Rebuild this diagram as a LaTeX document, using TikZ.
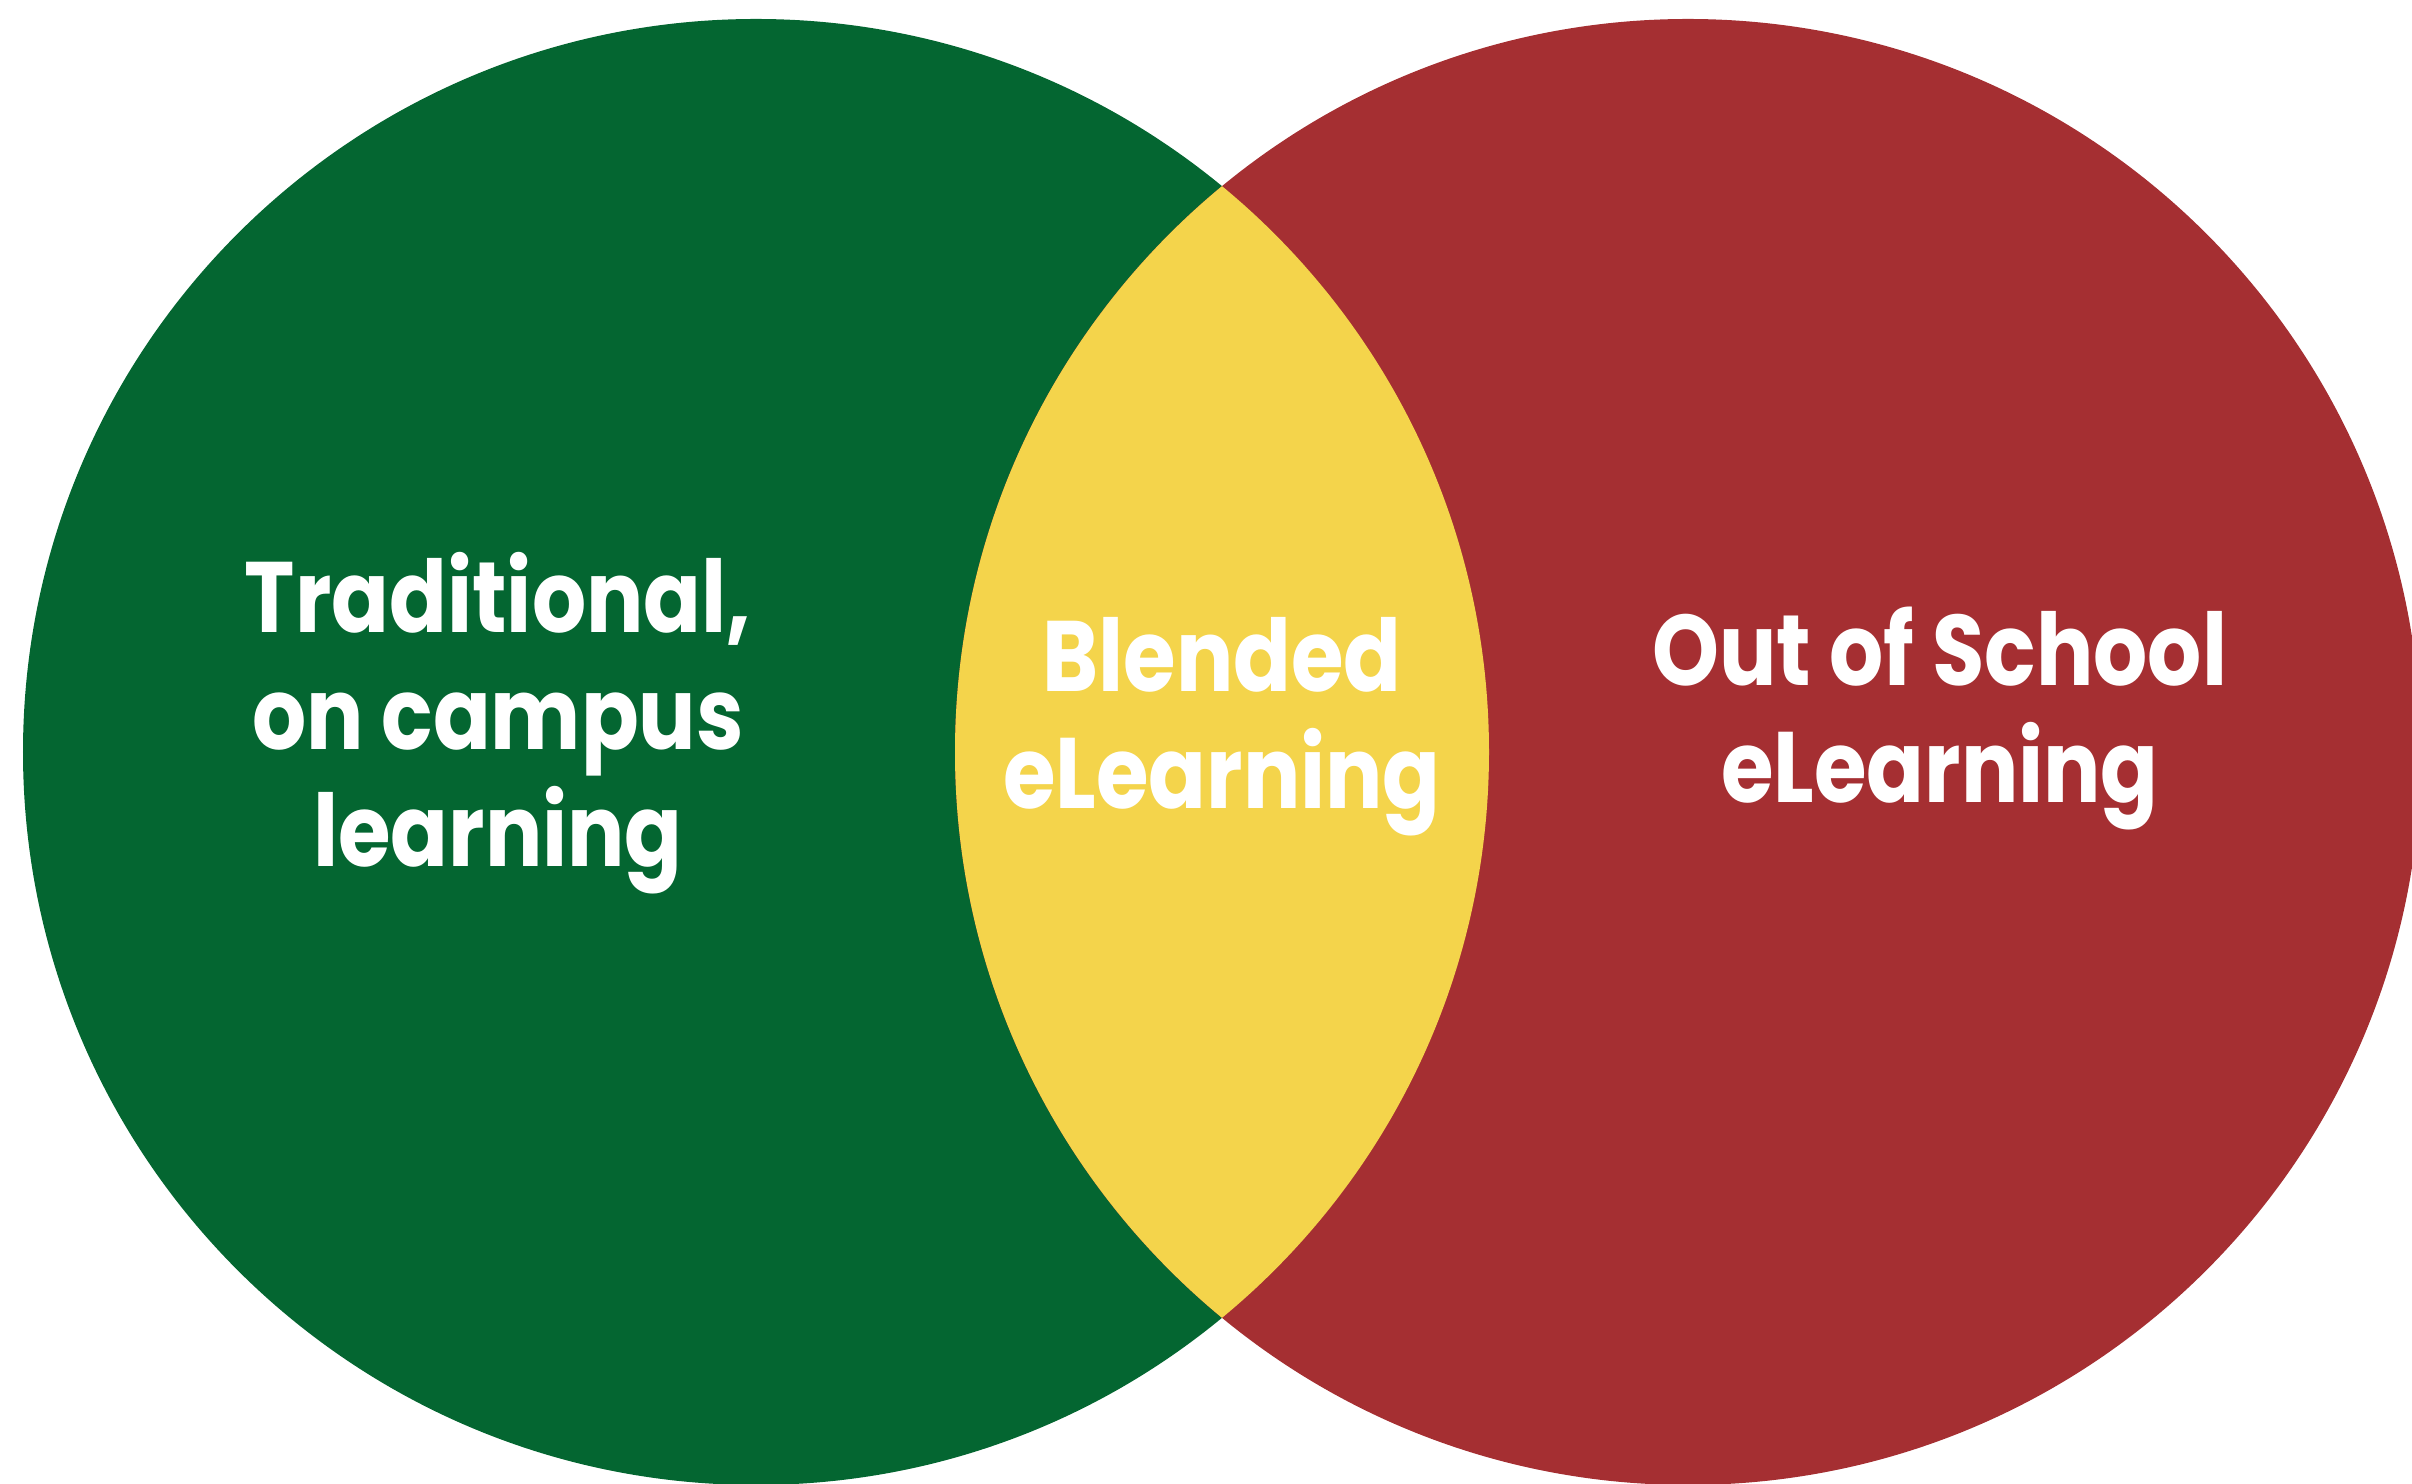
\documentclass[tikz,border=0pt]{standalone}
\usepackage{fontspec}
\usepackage{tikz}
\usetikzlibrary{positioning}
\newfontfamily\vennfont{Poppins Bold}[FakeStretch=0.85]
\definecolor{campusgreen}{RGB}{4,102,49}
\definecolor{schoolred}{RGB}{165,47,50}
\definecolor{blendyellow}{RGB}{244,212,75}

\begin{document}
\begin{tikzpicture}[
    outer sep=0pt,
    set/.style={circle, minimum size=14.66cm, inner sep=0pt},
    setlabel/.style={text=white, align=center, font=\vennfont\fontsize{28.5pt}{33.3pt}\selectfont}
]
    \clip (0,0) rectangle (24.12,14.84);
    \node [set, fill=campusgreen] (campus) at (7.56,7.32) {};
    \node [set, fill=schoolred] (online) at (16.88,7.32) {};
    % overlap of the two sets
    \begin{scope}
        \clip (campus.center) circle (7.33);
        \fill [blendyellow] (online.center) circle (7.33);
    \end{scope}
    \node [setlabel] (trad) at (4.98,7.61) {Traditional,\\on campus\\learning};
    \node [setlabel] (blend) at (12.22,7.575) {Blended\\eLearning};
    \node [setlabel] (out) at (19.40,7.65) {Out of School\\eLearning};
\end{tikzpicture}
\end{document}
